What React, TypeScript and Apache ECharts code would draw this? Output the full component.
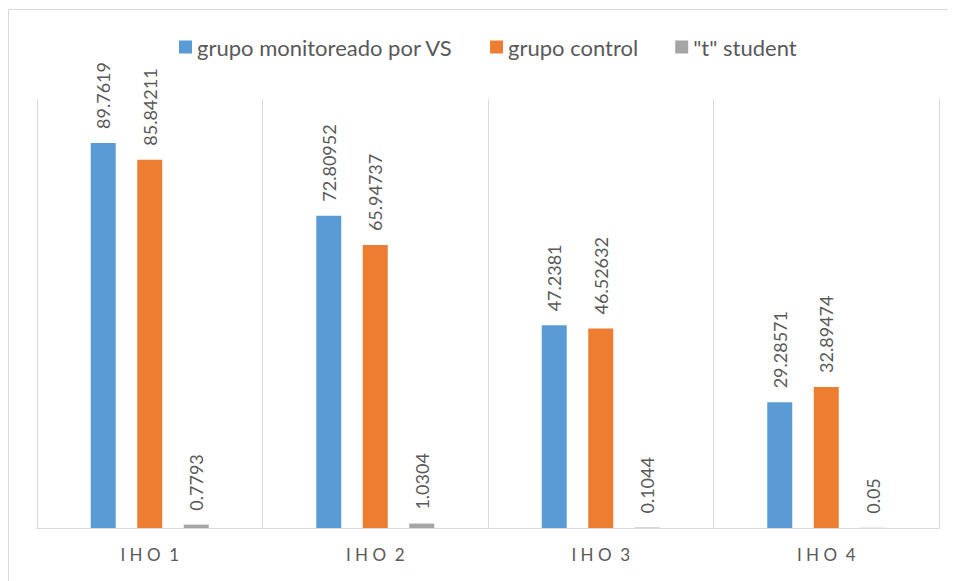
import React, { useEffect, useRef } from "react";
import * as echarts from "echarts";

const categories = ["IHO 1", "IHO 2", "IHO 3", "IHO 4"];
const categoryLabels = ["I H O  1", "I H O  2", "I H O  3", "I H O  4"];
const seriesNames = ["grupo monitoreado por VS", "grupo control", "\"t\" student"];
const grupoVS = [89.7619, 72.80952, 47.2381, 29.28571];
const grupoControl = [85.84211, 65.94737, 46.52632, 32.89474];
const tStudent = [0.7793, 1.0304, 0.1044, 0.05];
const colors = ["#5B9BD5", "#ED7D31", "#A5A5A5"];

const FONT = "Lato";

export default function App() {
  const ref = useRef<HTMLDivElement>(null);
  useEffect(() => {
    if (!ref.current) return;
    const chart = echarts.init(ref.current, null, { renderer: "svg" });
    const label = {
      show: true,
      position: "top",
      rotate: 90,
      align: "left",
      verticalAlign: "middle",
      distance: 14,
      color: "#595959",
      fontFamily: FONT,
      fontSize: 18,
    };
    const mk = (name: string, data: number[], color: string) => ({
      name,
      type: "bar",
      data,
      barWidth: 25,
      barGap: "86%",
      itemStyle: { color },
      label,
    });
    chart.setOption({
      animation: false,
      textStyle: { fontFamily: FONT },
      graphic: [
        {
          type: "rect",
          shape: { x: 0.5, y: 1.5, width: 2000, height: 2000 },
          style: { fill: "none", stroke: "#D9D9D9", lineWidth: 1 },
          silent: true,
        },
      ],
      legend: {
        top: 23,
        left: 166,
        itemWidth: 13,
        itemHeight: 13,
        itemGap: 37,
        icon: "rect",
        textStyle: { color: "#595959", fontSize: 22, fontFamily: FONT },
        data: seriesNames,
      },
      grid: { left: 29, right: 17, top: 91, bottom: 53, containLabel: false },
      xAxis: {
        type: "category",
        data: categories,
        axisLine: { show: true, lineStyle: { color: "#D9D9D9", width: 1 } },
        axisTick: { show: false },
        splitLine: { show: true, lineStyle: { color: "#D9D9D9", width: 1 } },
        axisLabel: {
          color: "#595959",
          fontSize: 17,
          fontFamily: FONT,
          margin: 18,
          formatter: (v: string) => categoryLabels[categories.indexOf(v)],
        },
      },
      yAxis: {
        type: "value",
        min: 0,
        max: 100,
        show: false,
        splitLine: { show: false },
      },
      series: [
        mk(seriesNames[0], grupoVS, colors[0]),
        mk(seriesNames[1], grupoControl, colors[1]),
        mk(seriesNames[2], tStudent, colors[2]),
      ],
    });
    return () => chart.dispose();
  }, []);
  return <div ref={ref} style={{ width: 948, height: 573 }} />;
}
